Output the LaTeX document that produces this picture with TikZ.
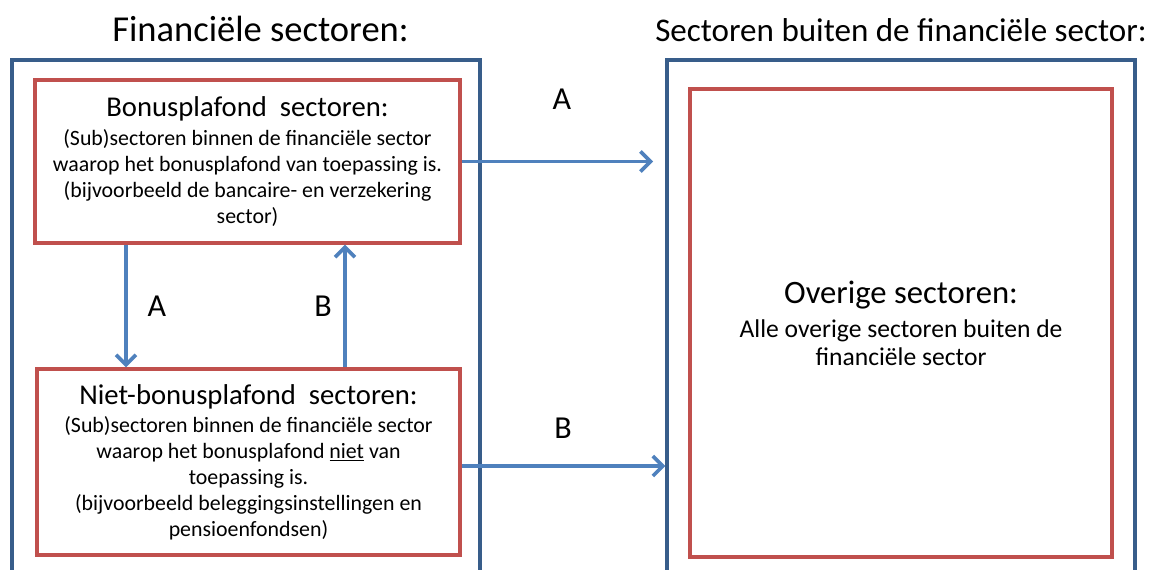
\documentclass[tikz,border=0pt]{standalone}
\usepackage{fontspec}
\setmainfont{Carlito}
\definecolor{framecol}{HTML}{385D8A}
\definecolor{boxcol}{HTML}{C0504D}
\definecolor{flowcol}{HTML}{4F81BD}
\tikzstyle{frame}=[rectangle,draw=framecol,line width=2.5pt,
minimum width=351pt,minimum height=420pt]
\tikzstyle{sector}=[rectangle,draw=boxcol,line width=2.5pt,align=center,
inner sep=0pt,font=\fontsize{16.4}{19.5}\selectfont]
\tikzstyle{title}=[inner sep=0pt,anchor=base]
\tikzstyle{flowlabel}=[inner sep=0pt,anchor=base,font=\fontsize{24}{29}\selectfont]
\tikzstyle{flowarrow}=[draw=flowcol,line width=2.7pt,
-{Straight Barb[length=7.5pt,width=15pt]}]
\usetikzlibrary{arrows.meta,positioning}

\begin{document}
\begin{tikzpicture}[x=0.75pt,y=-0.75pt]
            \useasboundingbox (0,0) rectangle (1149,570);
            \clip (0,0) rectangle (1149,570);

            % FINANCIAL PART

            \node[title,font=\fontsize{27.4}{33}\selectfont] (fintitle) at (260.5,42) {Financiële sectoren:};
            \node[frame] (financieel) at (246,340) {};
            \node[sector,minimum width=318.75pt,minimum height=122.25pt] (bonus) at (247.5,161.5)
                {{\fontsize{21.5}{26}\selectfont Bonusplafond\ \ sectoren:}\\[2.25pt]
                 (Sub)sectoren binnen de financiële sector\\
                 waarop het bonusplafond van toepassing is.\\
                 (bijvoorbeeld de bancaire- en verzekering\\
                 sector)};
            \node[sector,minimum width=317.25pt,minimum height=139.5pt] (niet) at (248.5,462)
                {{\fontsize{21.5}{26}\selectfont Niet-bonusplafond\ \ sectoren:}\\[1.5pt]
                 (Sub)sectoren binnen de financiële sector\\
                 waarop het bonusplafond \underline{niet} van\\
                 toepassing is.\\
                 (bijvoorbeeld beleggingsinstellingen en\\
                 pensioenfondsen)};

            % OTHER PART

            \node[title,font=\fontsize{24.8}{30}\selectfont] (buitentitle) at (901,42) {Sectoren buiten de financiële sector:};
            \node[frame] (buiten) at (901,340) {};
            \node[sector,minimum width=316.5pt,minimum height=351pt,
                  font=\fontsize{19.2}{20.5}\selectfont] (overig) at (901,323)
                {{\fontsize{24.5}{30}\selectfont Overige sectoren:}\\[5.5pt]
                 Alle overige sectoren buiten de\\
                 financiële sector};

            % Flows

            \coordinate (colA) at (126,0);
            \coordinate (colB) at (345,0);
            \coordinate (endA) at (653,0);

            \draw[flowarrow] (bonus.south -| colA) -- (niet.north -| colA);
            \draw[flowarrow] (niet.north -| colB) -- (bonus.south -| colB);
            \draw[flowarrow] (bonus.east) -- (bonus.east -| endA);
            \draw[flowarrow] ([yshift=-3pt]niet.east) -- ([yshift=-3pt]niet.east -| buiten.west);

            \node[flowlabel] (lblA1) at (157,316) {A};
            \node[flowlabel] (lblB1) at (323,316) {B};
            \node[flowlabel] (lblA2) at (562,110) {A};
            \node[flowlabel] (lblB2) at (563,438) {B};

        \end{tikzpicture}
\end{document}
